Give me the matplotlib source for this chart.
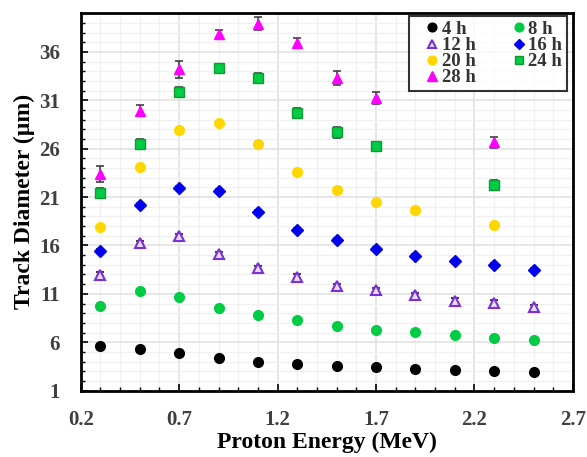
import matplotlib.pyplot as plt
from matplotlib.ticker import MultipleLocator

# Proton energies (MeV)
energy = [0.3, 0.5, 0.7, 0.9, 1.1, 1.3, 1.5, 1.7, 1.9, 2.1, 2.3, 2.5]
energy_20h = [0.3, 0.5, 0.7, 0.9, 1.1, 1.3, 1.5, 1.7, 1.9, 2.3]
energy_24h = [0.3, 0.5, 0.7, 0.9, 1.1, 1.3, 1.5, 1.7, 2.3]
energy_28h = [0.3, 0.5, 0.7, 0.9, 1.1, 1.3, 1.5, 1.7, 2.3]

# Track diameters (um) per etching time
d_4h = [5.65, 5.28, 4.86, 4.34, 3.99, 3.75, 3.52, 3.41, 3.24, 3.16, 3.0, 2.93]
d_8h = [9.79, 11.34, 10.66, 9.55, 8.86, 8.28, 7.69, 7.24, 7.07, 6.76, 6.41, 6.24]
d_12h = [12.97, 16.25, 16.93, 15.11, 13.66, 12.79, 11.76, 11.38, 10.87, 10.28, 10.10, 9.62]
d_16h = [15.45, 20.14, 21.97, 21.66, 19.42, 17.59, 16.59, 15.59, 14.90, 14.38, 14.03, 13.48]
d_20h = [17.86, 24.15, 27.98, 28.70, 26.53, 23.56, 21.69, 20.49, 19.66, 18.08]
d_24h = [21.46, 26.50, 31.84, 34.32, 33.33, 29.66, 27.70, 26.25, 22.28]
d_28h = [23.39, 29.94, 34.19, 37.81, 38.92, 36.91, 33.26, 31.22, 26.66]

# error bars
err_12h = [0.25] * 12
err_16h = [0.2] * 12
err_24h = [0.48, 0.48, 0.5, 0.48, 0.48, 0.5, 0.55, 0.45, 0.45]
err_28h = [0.8, 0.55, 0.9, 0.5, 0.7, 0.55, 0.72, 0.64, 0.57]

x_ticks = [0.2, 0.7, 1.2, 1.7, 2.2, 2.7]
y_ticks = [1, 6, 11, 16, 21, 26, 31, 36]

plt.rcParams['font.family'] = ['Liberation Serif', 'DejaVu Serif']
plt.rcParams['font.weight'] = 'bold'

fig = plt.figure(figsize=(5.87, 4.57), dpi=100)
ax = fig.add_axes([0.1375, 0.1453, 0.8385, 0.8257])

ebar = dict(ecolor='#404040', elinewidth=1.2, capsize=3, capthick=1.2, linestyle='none')

h4 = ax.errorbar(energy, d_4h, fmt='o', color='black', ms=7, zorder=3)
h8 = ax.errorbar(energy, d_8h, fmt='o', color='#00CC44', ms=7, zorder=3)
h12 = ax.errorbar(energy, d_12h, yerr=err_12h, fmt='^', color='#7B2FD8', mfc='#E8DDF8',
                  mec='#7B2FD8', mew=1.5, ms=6.5, zorder=3, **ebar)
h16 = ax.errorbar(energy, d_16h, yerr=err_16h, fmt='D', color='#0000EE', ms=6,
                  zorder=3, **ebar)
h20 = ax.errorbar(energy_20h, d_20h, fmt='o', color='#FFD700', ms=7, zorder=3)
h24 = ax.errorbar(energy_24h, d_24h, yerr=err_24h, fmt='s', color='#00CC44', mec='#119933',
                  ms=6.5, zorder=3, **ebar)
h28 = ax.errorbar(energy_28h, d_28h, yerr=err_28h, fmt='^', color='#FF00FF', ms=7.5,
                  zorder=3, **ebar)

ax.set_xlim(0.2, 2.7)
ax.set_ylim(1, 40)
ax.set_xticks(x_ticks)
ax.xaxis.set_minor_locator(MultipleLocator(0.1))
ax.set_yticks(y_ticks)
ax.yaxis.set_minor_locator(MultipleLocator(1))

ax.grid(which='major', color='#E2E2E2', linewidth=1.2, zorder=0)
ax.grid(which='minor', color='#F0F0F0', linewidth=1.0, zorder=0)
ax.set_axisbelow(True)

ax.tick_params(which='major', direction='in', length=5, width=1.2, labelsize=15,
               labelcolor='#404040')
ax.tick_params(axis='x', which='major', pad=14)
ax.tick_params(axis='y', which='major', pad=15)
ax.tick_params(which='minor', direction='in', length=3, width=1.0)
for lab in ax.get_xticklabels() + ax.get_yticklabels():
    lab.set_fontweight('bold')
for s in ax.spines.values():
    s.set_linewidth(2)

ax.set_xlabel('Proton Energy (MeV)', fontsize=17, fontweight='bold', labelpad=1)
ax.set_ylabel('Track Diameter (µm)', fontsize=17, fontweight='bold', labelpad=3)

# row-wise order like the original: 4 8 / 12 16 / 20 24 / 28
handles = [h4[0], h12[0], h20[0], h28[0], h8[0], h16[0], h24[0]]
labels = ['4 h', '12 h', '20 h', '28 h', '8 h', '16 h', '24 h']
leg = ax.legend(handles, labels, loc='upper right', ncol=2, fontsize=13.5, frameon=True,
                fancybox=False, edgecolor='black', handletextpad=-0.5, handlelength=2.0,
                columnspacing=1.3, labelspacing=-0.05, borderpad=0.25, markerscale=0.9,
                borderaxespad=0.15, bbox_to_anchor=(0.993, 1.0))
leg.get_frame().set_linewidth(1.5)
for t in leg.get_texts():
    t.set_fontweight('bold')
    t.set_color('#333333')

fig.savefig('out.png', dpi=100)
